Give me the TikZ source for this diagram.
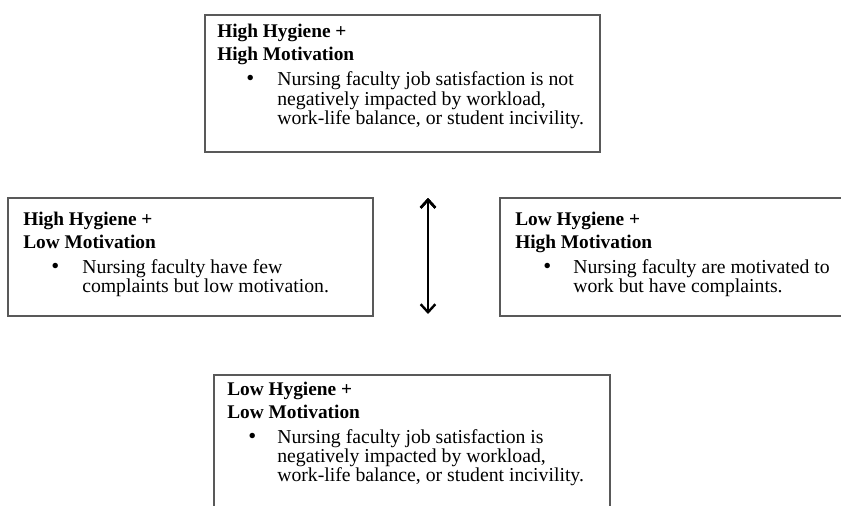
\documentclass[tikz,border=0pt]{standalone}
\usepackage{fontspec}
\setmainfont{Liberation Serif}
\usepackage{tikz}
\usetikzlibrary{arrows.meta}
\tikzstyle{quad}=[draw=black!65, line width=0.9pt, inner sep=0pt, outer sep=0pt, anchor=north west]
\tikzstyle{quadtext}=[inner sep=0pt, anchor=base west, font=\fontsize{14.5}{14.25}\selectfont]
\tikzstyle{arrow}=[draw=black, line width=1.8pt, >={Straight Barb[length=6pt, width=11pt]}]
% heading 1, heading 2, bullet offset, bullet-to-text gap, bullet lines
\newcommand{\quadlabel}[5]{\parbox[t]{300pt}{\raggedright
  \textbf{#1}\\[3pt]
  \textbf{#2}\\[4.5pt]
  \hspace*{#3}\makebox[0pt]{\fontsize{17}{14.25}\selectfont\textbullet}\hspace*{#4}%
  \parbox[t]{260pt}{\fontsize{14.8}{14.4}\selectfont\raggedright #5}}}

\begin{document}
\begin{tikzpicture}[x=0.75pt, y=-0.75pt]
		   \clip (0,0) rectangle (841,506);
		   \begin{scope}
			   \node (hh) at (205, 15)[quad, minimum width=296.25pt, minimum height=102.75pt] {};
			   \node (hl) at (8, 198)[quad, minimum width=273.75pt, minimum height=88.5pt] {};
			   \node (lh) at (500, 198)[quad, minimum width=262.5pt, minimum height=88.5pt] {};
			   \node (ll) at (214, 375)[quad, minimum width=297pt, minimum height=112.5pt] {};
		   \end{scope}
		   \begin{scope}
			   \node (hhtext) at ([shift={(12, 23)}]hh.north west)[quadtext]
			     {\quadlabel{High Hygiene +}{High Motivation}{24.75pt}{20.25pt}
			       {Nursing faculty job satisfaction is not\\negatively impacted by workload,\\work-life balance, or student incivility.}};
			   \node (hltext) at ([shift={(15, 27)}]hl.north west)[quadtext]
			     {\quadlabel{High Hygiene +}{Low Motivation}{24pt}{20.25pt}
			       {Nursing faculty have few\\complaints but low motivation.}};
			   \node (lhtext) at ([shift={(15, 27)}]lh.north west)[quadtext]
			     {\quadlabel{Low Hygiene +}{High Motivation}{24pt}{19.5pt}
			       {Nursing faculty are motivated to\\work but have complaints.}};
			   \node (lltext) at ([shift={(13, 20)}]ll.north west)[quadtext]
			     {\quadlabel{Low Hygiene +}{Low Motivation}{18.75pt}{18.75pt}
			       {Nursing faculty job satisfaction is\\negatively impacted by workload,\\work-life balance, or student incivility.}};
		   \end{scope}
		   \begin{scope}
			   \coordinate (up) at (428, 198);
			   \coordinate (dn) at (428, 314);
			   \path [arrow, <->] (up) edge (dn);
		   \end{scope}
	   \end{tikzpicture}
\end{document}
